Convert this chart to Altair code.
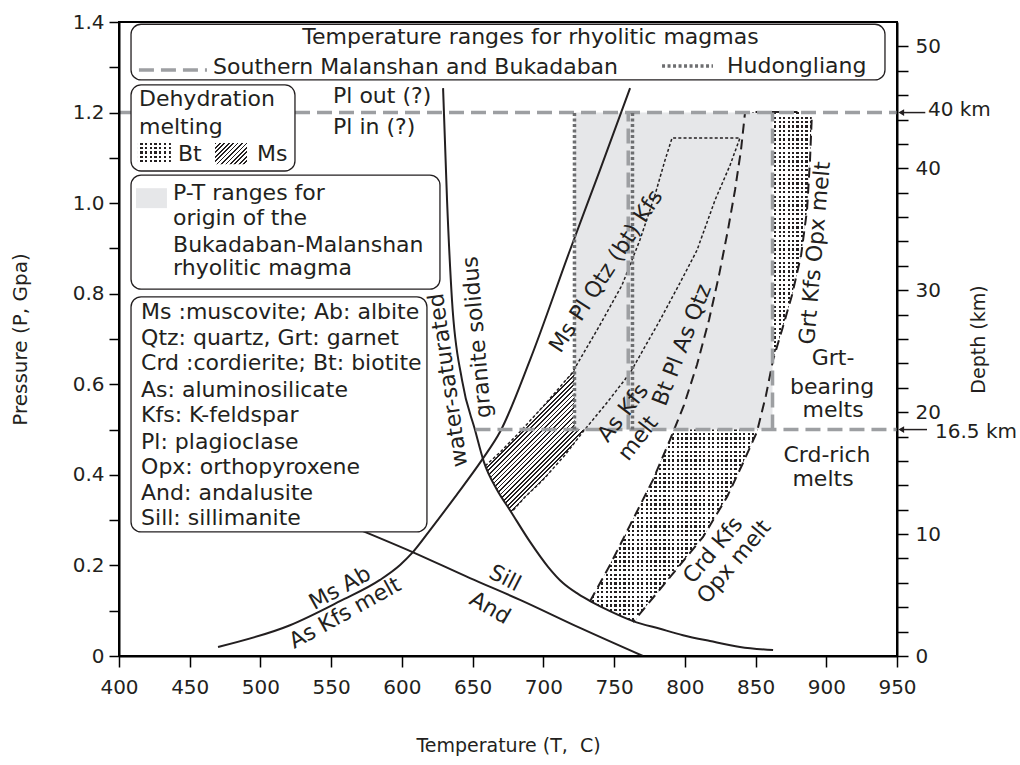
import altair as alt
import pandas as pd

FONT = "DejaVu Sans"
INK = "#231f20"
GRAY_FILL = "#e6e7e9"
MAL_GRAY = "#9d9fa2"
HUD_GRAY = "#6d6e70"

W, H = 778, 634
T_DOMAIN = [400, 950]
P_DOMAIN = [0, 1.4]
KM_DOMAIN = [0, 52]

# ---------------- data ----------------
x_ticks = list(range(400, 951, 50))
p_ticks = [round(i * 0.1, 1) for i in range(15)]
km_ticks = list(range(0, 51, 2))

# water-saturated granite solidus
solidus_T = [629.1, 631.9, 635.4, 642.5, 651.7, 658.0, 667.2, 676.4, 690.6, 703.3, 713.9,
             724.5, 734.4, 747.1, 763.4, 782.5, 798.7, 817.8, 839.0, 862.4]
solidus_P = [1.254, 1.007, 0.786, 0.609, 0.499, 0.428, 0.367, 0.322, 0.252, 0.197, 0.161,
             0.137, 0.119, 0.099, 0.077, 0.060, 0.046, 0.033, 0.020, 0.013]
# Ms Ab = As Kfs melt
msab_T = [470.0, 520.9, 556.2, 584.5, 598.7, 607.1, 619.9, 637.5, 656.6, 669.4, 690.6, 718.8, 740.0, 761.3]
msab_P = [0.020, 0.068, 0.121, 0.168, 0.201, 0.227, 0.278, 0.351, 0.433, 0.495, 0.654, 0.896, 1.073, 1.254]
# And = Sill
andsill_T = [566.8, 607.1, 648.1, 683.5, 725.9, 770.4]
andsill_P = [0.283, 0.230, 0.172, 0.124, 0.062, 0.000]
# fine dotted loop (Ms dehydration boundaries)
loop_T = [659.0, 669.4, 683.5, 701.2, 720.3, 740.0, 755.6, 768.3, 778.9, 786.0, 791.0,
          839.0, 832.0, 821.4, 808.6, 796.6, 782.5, 761.3, 743.6, 728.0, 715.3, 699.8, 687.0, 677.5]
loop_P = [0.420, 0.450, 0.495, 0.556, 0.625, 0.731, 0.819, 0.919, 1.018, 1.095, 1.144,
          1.144, 1.084, 1.007, 0.896, 0.824, 0.742, 0.625, 0.554, 0.495, 0.444, 0.389, 0.351, 0.318]
# long-dashed Bt dehydration boundaries
btline_T = [733.0, 747.8, 761.3, 777.5, 789.5, 799.4, 808.6, 817.1, 824.2, 830.5, 835.5, 839.7, 842.6,
            889.9, 888.5, 886.4, 882.2, 875.8, 868.7, 862.4, 857.4, 851.0, 841.1, 829.8, 812.9, 789.5, 763.4]
btline_P = [0.121, 0.205, 0.289, 0.389, 0.477, 0.554, 0.643, 0.742, 0.841, 0.941, 1.029, 1.117, 1.201,
            1.201, 1.095, 0.985, 0.885, 0.797, 0.720, 0.654, 0.576, 0.495, 0.426, 0.351, 0.263, 0.174, 0.075]
# Ms dehydration melting region (hatched)
ms_P = [0.318, 0.351, 0.389, 0.420, 0.450, 0.495, 0.556, 0.625, 0.731, 0.824, 0.919, 1.018, 1.095, 1.144]
ms_left = [677.5, 670.5, 663.9, 659.0, 669.4, 683.5, 701.2, 720.3, 740.0, 756.2, 768.3, 778.9, 786.0, 791.0]
ms_right = [677.5, 687.0, 699.8, 708.5, 716.8, 728.0, 744.1, 761.3, 780.5, 796.6, 811.2, 822.9, 833.3, 839.0]
# Bt dehydration melting region (stippled)
bt_P = [0.075, 0.093, 0.121, 0.174, 0.263, 0.351, 0.426, 0.495, 0.576, 0.654, 0.720, 0.797, 0.885, 0.985, 1.095, 1.201]
bt_left = [764.5, 751.5, 733.0, 742.3, 757.1, 771.3, 782.5, 791.8, 801.7, 809.5, 815.2, 821.0, 827.0, 833.0, 838.6, 842.6]
bt_right = [764.5, 768.1, 775.5, 789.5, 812.9, 829.8, 841.1, 851.0, 857.4, 862.4, 868.7, 875.8, 882.2, 886.4, 888.5, 889.9]

# P-T range for the Bukadaban-Malanshan magma
range_T = [722, 862]
range_P = [0.5, 1.2]
hud_T = [722, 763]          # Hudongliang temperature range
mal_T = [760, 862]          # Southern Malanshan and Bukadaban range
level_P = [1.2, 0.5]        # 40 km and 16.5 km levels
level_T0 = [400, 652]

# legend boxes (T1, T2, P1, P2)
box_T1 = [408.5, 408.5, 408.5, 408.5]
box_T2 = [941.5, 524.4, 626.9, 617.7]
box_P1 = [1.395, 1.261, 1.062, 0.793]
box_P2 = [1.272, 1.071, 0.810, 0.274]

# legend samples
mal_key_T = [414.1, 462.2]
mal_key_P = 1.294
hud_key_T = [783.9, 819.9]
hud_key_P = 1.303
bt_key = [413.4, 436.7, 1.133, 1.086]
ms_key = [467.9, 490.5, 1.133, 1.086]
gray_key = [412.0, 433.9, 1.033, 0.989]

# left-aligned texts
lt_text = ["Southern Malanshan and Bukadaban", "Hudongliang", "Dehydration", "melting", "Bt", "Ms",
           "P-T ranges for", "origin of the", "Bukadaban-Malanshan", "rhyolitic magma",
           "Ms :muscovite; Ab: albite", "Qtz: quartz, Grt: garnet", "Crd :cordierite; Bt: biotite",
           "As: aluminosilicate", "Kfs: K-feldspar", "Pl: plagioclase", "Opx: orthopyroxene",
           "And: andalusite", "Sill: sillimanite", "Pl out (?)", "Pl in (?)"]
lt_T = [466.5, 829.8, 414.1, 414.1, 441.7, 497.6,
        438.2, 438.2, 438.2, 438.2,
        415.6, 415.6, 415.6, 415.6, 415.6, 415.6, 415.6, 415.6, 415.6, 551.3, 551.3]
lt_P = [1.300, 1.303, 1.230, 1.168, 1.108, 1.108,
        1.022, 0.967, 0.907, 0.857,
        0.760, 0.702, 0.647, 0.587, 0.532, 0.473, 0.417, 0.360, 0.305, 1.236, 1.168]

# centred (rotated) labels
ct_text = ["Temperature ranges for rhyolitic magmas", "water-saturated", "granite solidus",
           "Ms Ab", "As Kfs melt", "Sill", "And", "Ms Pl Qtz (bt) Kfs", "As Kfs", "melt",
           "Bt Pl As Qtz", "Grt Kfs Opx melt", "Grt-", "bearing", "melts", "Crd-rich", "melts",
           "Crd Kfs", "Opx melt"]
ct_T = [690.9, 632.6, 653.1, 556.2, 559.8, 672.9, 662.3, 744.3, 756.3, 766.9,
        798.0, 892.0, 904.8, 904.1, 904.8, 900.5, 897.7, 819.9, 834.8]
ct_P = [1.367, 0.609, 0.704, 0.150, 0.095, 0.172, 0.106, 0.850, 0.537, 0.481,
        0.687, 0.890, 0.658, 0.594, 0.543, 0.444, 0.391, 0.234, 0.208]
ct_angle = [0, 262, 265, 331, 331, 27, 30, 303, 308, 308,
            291, 275, 0, 0, 0, 0, 0, 310, 310]

# depth markers outside the frame
mark_text = ["40 km", "16.5 km"]
mark_T = [971.9, 976.9]
mark_P = [1.205, 0.495]
arrow_T0 = [953.0, 953.0]
arrow_T1 = [970.0, 971.2]
arrow_P = [1.2, 0.5]

# ---------------- helpers ----------------
xs = alt.Scale(domain=T_DOMAIN, nice=False, zero=False)
ys = alt.Scale(domain=P_DOMAIN, nice=False, zero=False)
px_T = W / (T_DOMAIN[1] - T_DOMAIN[0])
px_P = H / (P_DOMAIN[1] - P_DOMAIN[0])

XAX = alt.Axis(values=x_ticks, title="Temperature (T,\u00a0\u00a0C)", titleX=W / 2, titleY=89,
               titleBaseline="middle", titleAlign="center", labelPadding=10, tickSize=11,
               labelFlush=False, labelOverlap=False, grid=False, zindex=1)
YAX = alt.Axis(values=p_ticks,
               labelExpr="round(datum.value*10) % 2 == 0 ? (datum.value == 0 ? '0' : format(datum.value, '.1f')) : ''",
               title="Pressure (P, Gpa)", titleX=-99, titleY=H / 2, titleAngle=270,
               titleAlign="center", titleBaseline="middle", titleFontSize=20, tickSize=10, labelPadding=5,
               labelFlush=False, labelOverlap=False, grid=False, zindex=1)
DAX = alt.Axis(orient="right", values=km_ticks,
               labelExpr="datum.value % 10 == 0 ? datum.label : ''",
               title="Depth (km)", titleX=81, titleY=H / 2, titleAngle=270,
               titleAlign="center", titleBaseline="middle", tickSize=11, labelPadding=7,
               labelFlush=False, labelOverlap=False, grid=False, zindex=1)


def X(f="T"):
    return alt.X(f"{f}:Q", scale=xs, axis=XAX)


def Y(f="P"):
    return alt.Y(f"{f}:Q", scale=ys, axis=YAX)


def stripe_stops(n, frac, c_on, c_off):
    stops = []
    for i in range(n):
        a, b, c = i / n, (i + frac) / n, (i + 1) / n
        stops += [{"offset": round(a, 6), "color": c_on}, {"offset": round(b, 6), "color": c_on},
                  {"offset": round(b, 6), "color": c_off}, {"offset": round(min(c, 1), 6), "color": c_off}]
    return stops


def hatch_fill(w, h, period=3.2, frac=0.4):
    s = w * w + h * h
    n = max(1, round((w + h) / 2 ** 0.5 / period))
    return {"gradient": "linear", "x1": 0, "y1": 0, "x2": w * (w + h) / s, "y2": h * (w + h) / s,
            "stops": stripe_stops(n, frac, INK, "white")}


def dot_fills(w, h, period=4.4, frac=0.5):
    a = {"gradient": "linear", "x1": 0, "y1": 0, "x2": 0, "y2": 1,
         "stops": stripe_stops(max(1, round(h / period)), frac, INK, "white")}
    b = {"gradient": "linear", "x1": 0, "y1": 0, "x2": 1, "y2": 0,
         "stops": stripe_stops(max(1, round(w / period)), 1 - frac, "white", "rgba(255,255,255,0)")}
    return a, b


def path_df(paths):
    recs = []
    for pid, Ts, Ps in paths:
        for i, (t, p) in enumerate(zip(Ts, Ps)):
            recs.append({"id": pid, "i": i, "T": t, "P": p})
    return pd.DataFrame(recs)


def lines(df, color, width, dash=None, interp="linear"):
    m = dict(color=color, strokeWidth=width, strokeCap="butt", opacity=1, interpolate=interp)
    if dash:
        m["strokeDash"] = dash
    return alt.Chart(df).mark_line(**m).encode(x=X(), y=Y(), detail="id:N", order="i:Q")


def rect_df(T1, T2, P1, P2):
    return pd.DataFrame({"T": T1, "T2": T2, "P": P1, "P2": P2})


def rect_enc(ch):
    return ch.encode(x=X("T"), x2="T2:Q", y=Y("P"), y2="P2:Q")


# ---------------- layers ----------------
ms_df = pd.DataFrame({"P": ms_P, "L": ms_left, "R": ms_right})
ms_w = (max(ms_right) - min(ms_left)) * px_T
ms_h = (max(ms_P) - min(ms_P)) * px_P
ms_area = alt.Chart(ms_df).mark_area(orient="horizontal", fill=hatch_fill(ms_w, ms_h), opacity=1).encode(
    y=Y("P"), x=X("L"), x2="R:Q")

bt_df = pd.DataFrame({"P": bt_P, "L": bt_left, "R": bt_right})
bt_w = (max(bt_right) - min(bt_left)) * px_T
bt_h = (max(bt_P) - min(bt_P)) * px_P
bt_a, bt_b = dot_fills(bt_w, bt_h)
bt_area1 = alt.Chart(bt_df).mark_area(orient="horizontal", fill=bt_a, opacity=1).encode(
    y=Y("P"), x=X("L"), x2="R:Q")
bt_area2 = alt.Chart(bt_df).mark_area(orient="horizontal", fill=bt_b, opacity=1).encode(
    y=Y("P"), x=X("L"), x2="R:Q")

range_rect = rect_enc(alt.Chart(rect_df([range_T[0]], [range_T[1]], [range_P[0]], [range_P[1]]))
                      .mark_rect(fill=GRAY_FILL, opacity=1))

solid = lines(path_df([("solidus", solidus_T, solidus_P), ("msab", msab_T, msab_P),
                       ("andsill", andsill_T, andsill_P)]), INK, 2, interp="monotone")
loop = lines(path_df([("loop", loop_T, loop_P)]), INK, 1.5, [3, 2.2])
btdash = lines(path_df([("bt", btline_T, btline_P)]), INK, 2, [10, 6])

mal_paths = [("h1", [level_T0[0], T_DOMAIN[1]], [level_P[0], level_P[0]]),
             ("h2", [level_T0[1], T_DOMAIN[1]], [level_P[1], level_P[1]]),
             ("v1", [mal_T[0], mal_T[0]], range_P),
             ("v2", [mal_T[1], mal_T[1]], range_P)]
mal = lines(path_df(mal_paths), MAL_GRAY, 3.5, [15, 7])
hud = lines(path_df([("v1", [hud_T[0], hud_T[0]], range_P), ("v2", [hud_T[1], hud_T[1]], range_P)]),
            HUD_GRAY, 3.5, [3, 2.5])

boxes = rect_enc(alt.Chart(rect_df(box_T1, box_T2, box_P1, box_P2))
                 .mark_rect(fill="white", stroke=INK, strokeWidth=1.3, cornerRadius=10, opacity=1))

mal_key = lines(path_df([("k", mal_key_T, [mal_key_P, mal_key_P])]), MAL_GRAY, 3.5, [15, 7])
hud_key = lines(path_df([("k", hud_key_T, [hud_key_P, hud_key_P])]), HUD_GRAY, 3.5, [3, 2.5])

gray_sw = rect_enc(alt.Chart(rect_df([gray_key[0]], [gray_key[1]], [gray_key[2]], [gray_key[3]]))
                   .mark_rect(fill=GRAY_FILL, opacity=1))
bw = (bt_key[1] - bt_key[0]) * px_T
bh = (bt_key[2] - bt_key[3]) * px_P
ka, kb = dot_fills(bw, bh)
bt_sw1 = rect_enc(alt.Chart(rect_df([bt_key[0]], [bt_key[1]], [bt_key[2]], [bt_key[3]]))
                  .mark_rect(fill=ka, opacity=1))
bt_sw2 = rect_enc(alt.Chart(rect_df([bt_key[0]], [bt_key[1]], [bt_key[2]], [bt_key[3]]))
                  .mark_rect(fill=kb, opacity=1))
mw = (ms_key[1] - ms_key[0]) * px_T
mh = (ms_key[2] - ms_key[3]) * px_P
ms_sw = rect_enc(alt.Chart(rect_df([ms_key[0]], [ms_key[1]], [ms_key[2]], [ms_key[3]]))
                 .mark_rect(fill=hatch_fill(mw, mh), opacity=1))

lt = alt.Chart(pd.DataFrame({"T": lt_T, "P": lt_P, "text": lt_text})).mark_text(
    align="left", baseline="middle", font=FONT, fontSize=22, color=INK).encode(
    x=X(), y=Y(), text="text:N")
ct = alt.Chart(pd.DataFrame({"T": ct_T, "P": ct_P, "text": ct_text, "angle": ct_angle})).mark_text(
    align="center", baseline="middle", font=FONT, fontSize=22, color=INK).encode(
    x=X(), y=Y(), text="text:N", angle=alt.Angle("angle:Q", scale=None))
mt = alt.Chart(pd.DataFrame({"T": mark_T, "P": mark_P, "text": mark_text})).mark_text(
    align="left", baseline="middle", font=FONT, fontSize=20, color=INK).encode(
    x=X(), y=Y(), text="text:N")
shafts = lines(path_df([(f"a{k}", [arrow_T0[k], arrow_T1[k]], [arrow_P[k], arrow_P[k]]) for k in range(2)]),
               INK, 1.5)
heads = alt.Chart(pd.DataFrame({"T": arrow_T0, "P": arrow_P})).mark_point(
    shape="triangle-left", filled=True, size=45, color=INK, opacity=1).encode(x=X(), y=Y())

inner = alt.layer(ms_area, bt_area1, bt_area2, range_rect, solid, loop, btdash, mal, hud,
                  boxes, mal_key, hud_key, gray_sw, bt_sw1, bt_sw2, ms_sw, lt, ct, mt, shafts, heads)

depth = alt.Chart(pd.DataFrame({"km": KM_DOMAIN})).mark_point(opacity=0).encode(
    y=alt.Y("km:Q", scale=alt.Scale(domain=KM_DOMAIN, nice=False, zero=False), axis=DAX))

chart = (
    alt.layer(inner, depth)
    .resolve_scale(y="independent")
    .properties(width=W, height=H,
                padding={"left": 119, "top": 22, "right": 1020 - 119 - W, "bottom": 765 - 22 - H},
                autosize=alt.AutoSizeParams(type="none"), background="white")
    .configure_view(stroke="black", strokeWidth=2)
    .configure_axis(domainColor="black", domainWidth=2, tickColor="black", tickWidth=1.5,
                    labelFont=FONT, labelFontSize=20, labelColor=INK,
                    titleFont=FONT, titleFontSize=19, titleFontWeight="normal", titleColor=INK)
)

chart.save("out.html", embed_options={"renderer": "svg", "actions": False})
